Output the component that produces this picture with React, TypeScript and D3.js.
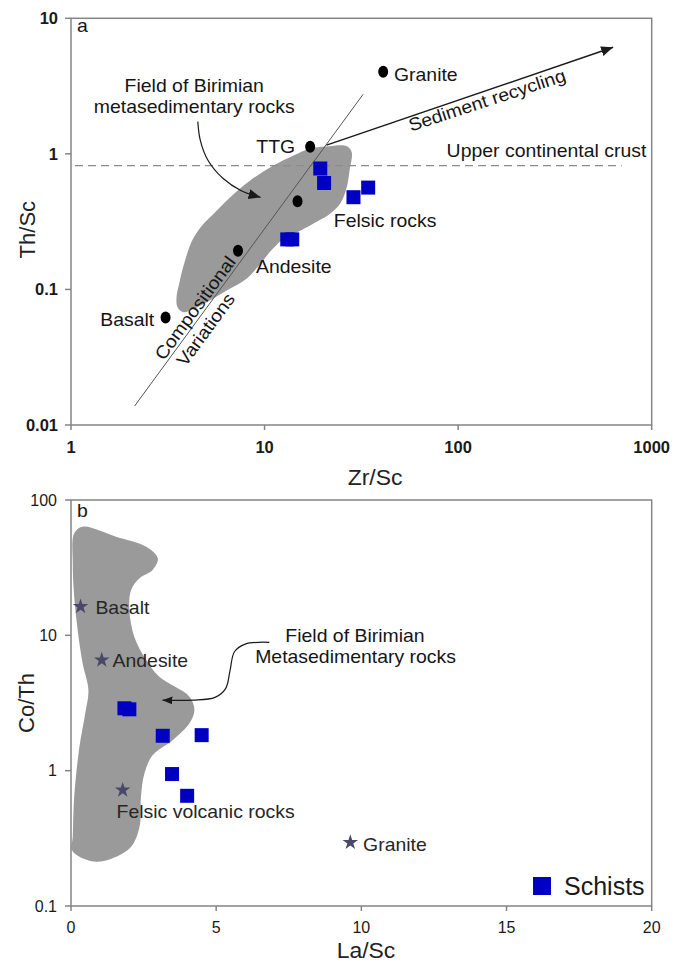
import React from 'react';
import * as d3 from 'd3';

// ---------------- Panel a : Th/Sc vs Zr/Sc ----------------
const zrScTicks = [1, 10, 100, 1000];
const zrScTickLabels = ['1', '10', '100', '1000'];
const thScTicks = [0.01, 0.1, 1, 10];
const thScTickLabels = ['0.01', '0.1', '1', '10'];

const refZrSc = [3.08, 7.29, 14.8, 17.2, 41.0];
const refThSc = [0.062, 0.193, 0.447, 1.13, 4.04];

const schistZrSc = [19.4, 20.3, 28.8, 34.3, 13.1, 13.9];
const schistThSc = [0.78, 0.61, 0.479, 0.564, 0.234, 0.234];

const uccThSc = 0.82;

const fieldAZrSc = [21.7, 26.6, 28.2, 27.5, 26.6, 24.7, 21.7, 19.3, 15.2, 12.7, 10.9, 9.42, 8.07, 6.44, 5.07, 4.24, 3.81, 3.55, 3.51, 3.63, 3.81, 4.24, 4.78, 5.38, 6.59, 8.36, 11.0, 14.3, 17.1];
const fieldAThSc = [1.14, 1.14, 1.03, 0.76, 0.57, 0.435, 0.36, 0.325, 0.27, 0.24, 0.196, 0.152, 0.12, 0.099, 0.081, 0.071, 0.068, 0.074, 0.088, 0.112, 0.149, 0.232, 0.299, 0.354, 0.473, 0.631, 0.814, 0.98, 1.09];

const compositionalZrSc = [2.13, 32.3];
const compositionalThSc = [0.0138, 2.75];
const recyclingZrSc = [20.9, 632];
const recyclingThSc = [1.16, 6.11];

const arrowAZrSc = [4.52, 4.65, 5.09, 6.09, 7.58, 9.53];
const arrowAThSc = [1.73, 1.27, 0.902, 0.661, 0.535, 0.478];

const labelAText = ['Granite', 'TTG', 'Andesite', 'Basalt', 'Felsic rocks', 'Upper continental crust'];
const labelAZrSc = [46.6, 14.4, 9.03, 2.69, 22.8, 87.2];
const labelAThSc = [3.45, 1.02, 0.133, 0.0538, 0.29, 0.954];
const labelAAnchor = ['start', 'end', 'start', 'end', 'start', 'start'];

const fieldALabel = ['Field of Birimian', 'metasedimentary rocks'];
const fieldALabelZrSc = [4.33, 4.33];
const fieldALabelThSc = [2.88, 1.99];

// ---------------- Panel b : Co/Th vs La/Sc ----------------
const laScTicks = [0, 5, 10, 15, 20];
const coThTicks = [0.1, 1, 10, 100];
const coThTickLabels = ['0.1', '1', '10', '100'];

const refLaSc = [0.33, 1.06, 1.78, 9.62];
const refCoTh = [16.3, 6.57, 0.719, 0.295];

const schistLaSc = [1.84, 2.01, 3.16, 4.50, 3.48, 4.0];
const schistCoTh = [2.89, 2.84, 1.81, 1.83, 0.944, 0.652];

const fieldBLaSc = [0.40, 1.55, 2.59, 2.99, 2.81, 2.36, 2.07, 2.01, 2.18, 2.59, 3.04, 4.08, 4.25, 4.08, 3.50, 2.81, 2.53, 2.41, 2.36, 2.07, 1.43, 0.86, 0.29, 0.03, 0.06, 0.11, 0.29, 0.49, 0.60, 0.40, 0.23, 0.11, 0.06, 0.11];
const fieldBCoTh = [63.5, 53.6, 45.2, 37.1, 30.4, 26.4, 21.6, 15.4, 9.77, 6.57, 4.94, 3.52, 2.80, 2.24, 1.68, 1.30, 0.955, 0.641, 0.385, 0.274, 0.225, 0.212, 0.231, 0.259, 0.325, 0.641, 1.50, 2.65, 3.94, 6.21, 10.9, 19.3, 34.1, 56.7];

const arrowBLaSc = [6.83, 6.0, 5.63, 5.48, 5.33, 4.96, 4.20, 3.15];
const arrowBCoTh = [8.88, 8.62, 7.56, 5.54, 4.06, 3.48, 3.32, 3.32];

const labelBText = ['Basalt', 'Andesite', 'Felsic volcanic rocks', 'Granite'];
const labelBLaSc = [0.84, 1.43, 1.57, 10.06];
const labelBCoTh = [14.4, 5.86, 0.449, 0.2545];

const fieldBLabel = ['Field of Birimian', 'Metasedimentary rocks'];
const fieldBLabelLaSc = [9.78, 9.80];
const fieldBLabelCoTh = [8.97, 6.21];

const legendLabel = 'Schists';

// ---------------- layout ----------------
const W = 685;
const H = 962;
const xL = 71;
const xR = 651.7;
const aTop = 18.3;
const aBot = 425;
const bTop = 500;
const bBot = 906;

const FONT = "Arial, 'Liberation Sans', Helvetica, sans-serif";
const BLUE = '#0000c2';
const GRAY_FIELD = '#9a9a9a';
const AXIS = '#858585';
const STAR = '#4a4868';

function Label(props: { x: number; y: number; text: string; anchor?: string; size?: number; rotate?: number; sx?: number; fill?: string; dy?: string }) {
  const { x, y, text, anchor = 'start', size = 18, rotate = 0, sx = 1.08, fill = '#151515', dy } = props;
  return (
    <text
      transform={`translate(${x},${y}) rotate(${rotate}) scale(${sx},1)`}
      textAnchor={anchor as any}
      fontSize={size}
      fontFamily={FONT}
      fill={fill}
      dy={dy}
    >
      {text}
    </text>
  );
}

export default function App() {
  const xA = d3.scaleLog().domain([1, 1000]).range([xL, xR]);
  const yA = d3.scaleLog().domain([0.01, 10]).range([aBot, aTop]);
  const xB = d3.scaleLinear().domain([0, 20]).range([xL, xR]);
  const yB = d3.scaleLog().domain([0.1, 100]).range([bBot, bTop]);

  const closedCurve = d3.line<[number, number]>().curve(d3.curveCatmullRomClosed.alpha(0.5));
  const openCurve = d3.line<[number, number]>().curve(d3.curveCatmullRom.alpha(0.5));

  const fieldA: [number, number][] = fieldAZrSc.map((v, i) => [xA(v), yA(fieldAThSc[i])]);
  const fieldB: [number, number][] = fieldBLaSc.map((v, i) => [xB(v), yB(fieldBCoTh[i])]);
  const arrowA: [number, number][] = arrowAZrSc.map((v, i) => [xA(v), yA(arrowAThSc[i])]);
  const arrowB: [number, number][] = arrowBLaSc.map((v, i) => [xB(v), yB(arrowBCoTh[i])]);

  const starPath = d3.symbol(d3.symbolStar, 75)() as string;

  const recX1 = xA(recyclingZrSc[0]);
  const recY1 = yA(recyclingThSc[0]);
  const recX2 = xA(recyclingZrSc[1]);
  const recY2 = yA(recyclingThSc[1]);
  const recAngle = (Math.atan2(recY2 - recY1, recX2 - recX1) * 180) / Math.PI;

  const cX1 = xA(compositionalZrSc[0]);
  const cY1 = yA(compositionalThSc[0]);
  const cX2 = xA(compositionalZrSc[1]);
  const cY2 = yA(compositionalThSc[1]);
  const compAngle = (Math.atan2(cY2 - cY1, cX2 - cX1) * 180) / Math.PI;

  const sq = 14;

  return (
    <svg width={W} height={H} style={{ position: 'absolute', left: 0, top: 0, background: '#fff' }} fontFamily={FONT}>
      <defs>
        <marker id="headBig" markerUnits="userSpaceOnUse" markerWidth={14} markerHeight={12} refX={12} refY={5} orient="auto">
          <path d="M0,0 L12,5 L0,10 Z" fill="#1a1a1a" />
        </marker>
        <marker id="headSmall" markerUnits="userSpaceOnUse" markerWidth={12} markerHeight={10} refX={10} refY={4} orient="auto">
          <path d="M0,0 L10,4 L0,8 Z" fill="#1a1a1a" />
        </marker>
      </defs>
      <rect x={0} y={0} width={W} height={H} fill="#fff" />

      {/* ================= Panel a ================= */}
      <path d={closedCurve(fieldA) as string} fill={GRAY_FIELD} />
      <line x1={xL + 4} x2={xA(700)} y1={yA(uccThSc)} y2={yA(uccThSc)} stroke="#8c8c8c" strokeWidth={1.2} strokeDasharray="8,5" />
      <line x1={cX1} y1={cY1} x2={cX2} y2={cY2} stroke="#555" strokeWidth={1} />
      <line x1={recX1} y1={recY1} x2={recX2} y2={recY2} stroke="#1a1a1a" strokeWidth={1.5} markerEnd="url(#headBig)" />
      <path d={openCurve(arrowA) as string} fill="none" stroke="#1a1a1a" strokeWidth={1.2} markerEnd="url(#headBig)" />

      {refZrSc.map((v, i) => (
        <ellipse key={'ra' + i} cx={xA(v)} cy={yA(refThSc[i])} rx={5} ry={6} fill="#000" />
      ))}
      {schistZrSc.map((v, i) => (
        <rect key={'sa' + i} x={xA(v) - sq / 2} y={yA(schistThSc[i]) - sq / 2} width={sq} height={sq} fill={BLUE} />
      ))}

      {labelAText.map((t, i) => (
        <Label key={'la' + i} x={xA(labelAZrSc[i])} y={yA(labelAThSc[i])} text={t} anchor={labelAAnchor[i]} />
      ))}
      {fieldALabel.map((t, i) => (
        <Label key={'fa' + i} x={xA(fieldALabelZrSc[i])} y={yA(fieldALabelThSc[i])} text={t} anchor="middle" />
      ))}
      <Label x={xA(57.0)} y={yA(1.46)} text="Sediment recycling" rotate={recAngle + 0.8} />
      <Label x={xA(4.37)} y={yA(0.0731)} text="Compositional" anchor="middle" rotate={compAngle} dy="0.35em" />
      <Label x={xA(4.96)} y={yA(0.0507)} text="Variations" anchor="middle" rotate={compAngle} dy="0.35em" />
      <Label x={xL + 6} y={aTop + 14} text="a" />

      {/* axes a */}
      <rect x={xL} y={aTop} width={xR - xL} height={aBot - aTop} fill="none" stroke={AXIS} strokeWidth={1.5} />
      {thScTicks.map((t, i) => (
        <g key={'ty' + i}>
          <line x1={xL - 6} x2={xL} y1={yA(t)} y2={yA(t)} stroke={AXIS} strokeWidth={1.5} />
          <text x={xL - 13} y={yA(t)} dy="0.36em" textAnchor="end" fontSize={16.5} fontWeight="bold" fill="#1a1a1a">
            {thScTickLabels[i]}
          </text>
        </g>
      ))}
      {zrScTicks.map((t, i) => (
        <g key={'tx' + i}>
          <line x1={xA(t)} x2={xA(t)} y1={aBot} y2={aBot + 5} stroke={AXIS} strokeWidth={1.5} />
          <text x={xA(t)} y={453} textAnchor="middle" fontSize={16.5} fontWeight="bold" fill="#1a1a1a">
            {zrScTickLabels[i]}
          </text>
        </g>
      ))}
      <Label x={375} y={485} text="Zr/Sc" anchor="middle" size={22} sx={1.04} fill="#222" />
      <Label x={35} y={(aTop + aBot) / 2 + 8} text="Th/Sc" anchor="middle" size={22} sx={1.0} rotate={-90} fill="#222" />

      {/* ================= Panel b ================= */}
      <path d={closedCurve(fieldB) as string} fill={GRAY_FIELD} />
      <path d={openCurve(arrowB) as string} fill="none" stroke="#1a1a1a" strokeWidth={1.2} markerEnd="url(#headSmall)" />

      {refLaSc.map((v, i) => (
        <path key={'rb' + i} d={starPath} transform={`translate(${xB(v)},${yB(refCoTh[i])})`} fill={STAR} />
      ))}
      {schistLaSc.map((v, i) => (
        <rect key={'sb' + i} x={xB(v) - sq / 2} y={yB(schistCoTh[i]) - sq / 2} width={sq} height={sq} fill={BLUE} />
      ))}

      {labelBText.map((t, i) => (
        <Label key={'lb' + i} x={xB(labelBLaSc[i])} y={yB(labelBCoTh[i])} text={t} fill="#262626" />
      ))}
      {fieldBLabel.map((t, i) => (
        <Label key={'fb' + i} x={xB(fieldBLabelLaSc[i])} y={yB(fieldBLabelCoTh[i])} text={t} anchor="middle" />
      ))}
      <Label x={xL + 6} y={bTop + 17} text="b" />

      {/* legend */}
      <rect x={533} y={877} width={18} height={18} fill={BLUE} />
      <text x={564} y={895} fontSize={25} fill="#1a1a1a">{legendLabel}</text>

      {/* axes b */}
      <rect x={xL} y={bTop} width={xR - xL} height={bBot - bTop} fill="none" stroke={AXIS} strokeWidth={1.5} />
      {coThTicks.map((t, i) => (
        <g key={'tyb' + i}>
          <line x1={xL - 6} x2={xL} y1={yB(t)} y2={yB(t)} stroke={AXIS} strokeWidth={1.5} />
          <text x={xL - 14} y={yB(t)} dy="0.36em" textAnchor="end" fontSize={16} fill="#1a1a1a">
            {coThTickLabels[i]}
          </text>
        </g>
      ))}
      {laScTicks.map((t, i) => (
        <g key={'txb' + i}>
          <line x1={xB(t)} x2={xB(t)} y1={bBot} y2={bBot + 5} stroke={AXIS} strokeWidth={1.5} />
          <text x={xB(t)} y={933} textAnchor="middle" fontSize={16} fill="#1a1a1a">
            {String(t)}
          </text>
        </g>
      ))}
      <Label x={366} y={958} text="La/Sc" anchor="middle" size={22} sx={1.04} fill="#222" />
      <Label x={34} y={(bTop + bBot) / 2} text="Co/Th" anchor="middle" size={22} sx={1.0} rotate={-90} fill="#222" />
    </svg>
  );
}
